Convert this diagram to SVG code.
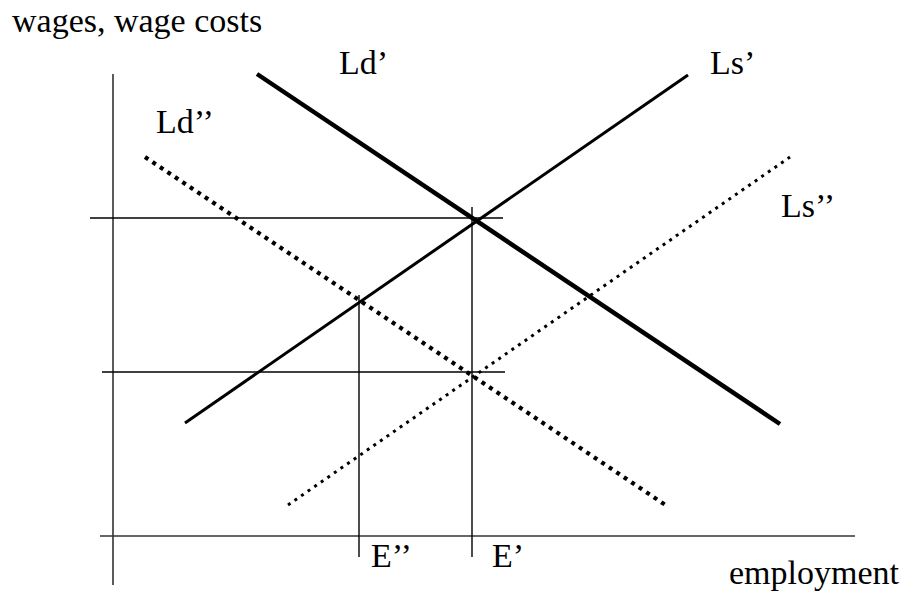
<svg xmlns="http://www.w3.org/2000/svg" width="904" height="595" viewBox="0 0 904 595">
<style>
text{font-family:"Liberation Serif","Times New Roman",serif;font-size:34px;fill:#000}
.ax{stroke:#333;stroke-width:1.6;fill:none}
.thin{stroke:#000;stroke-width:1.4;fill:none}
.ld1{stroke:#000;stroke-width:4.5;fill:none}
.ls1{stroke:#000;stroke-width:3;fill:none}
.ld2{stroke:#000;stroke-width:4.2;stroke-dasharray:4 5;fill:none}
.ls2{stroke:#000;stroke-width:3;stroke-dasharray:3 5;fill:none}
</style>
<rect width="904" height="595" fill="#fff"/>
<g id="axes">
<line class="ax" x1="113" y1="74" x2="113" y2="585"/>
<line class="ax" x1="100" y1="536" x2="855" y2="536"/>
</g>
<g id="connectors">
<line class="thin" x1="90" y1="218" x2="503" y2="218"/>
<line class="thin" x1="102" y1="372" x2="505" y2="372"/>
<line class="thin" x1="359" y1="295" x2="359" y2="557"/>
<line class="thin" x1="472" y1="207" x2="472" y2="557"/>
<line class="ld1" x1="257" y1="74" x2="780" y2="424"/>
<line class="ls1" x1="185" y1="423" x2="688" y2="75"/>
<line class="ld2" x1="145" y1="157" x2="667" y2="506"/>
<line class="ls2" x1="288" y1="505" x2="790" y2="157"/>
</g>
<g id="labels">
<text x="12" y="32">wages, wage costs</text>
<text x="339" y="74">Ld’</text>
<text x="710" y="74">Ls’</text>
<text x="156" y="133">Ld’’</text>
<text x="781" y="217">Ls’’</text>
<text x="371" y="567">E’’</text>
<text x="492" y="567">E’</text>
<text x="729" y="584">employment</text>
</g>
</svg>
